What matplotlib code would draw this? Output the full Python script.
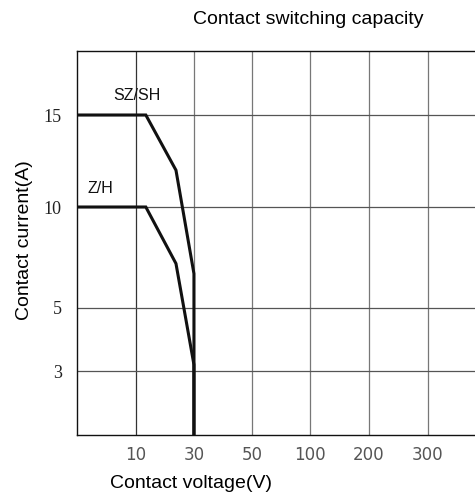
import matplotlib
matplotlib.use("Agg")
import matplotlib.pyplot as plt
import numpy as np

# data (voltage in V, current in A)
SZSH_V = [0, 13.4, 23.8, 30, 30]
SZSH_A = [15, 15, 12.0, 6.7, 0]
ZH_V = [0, 13.4, 23.8, 30, 30]
ZH_A = [10, 10, 7.2, 3.2, 0]

X_TICKS = [10, 30, 50, 100, 200, 300]
Y_TICKS = [3, 5, 10, 15]

# piecewise scales as printed on the datasheet
X_BREAK = [0, 10, 30, 50, 100, 200, 300, 400]
X_POS = [0, 59, 117, 175, 233, 292, 351, 410]
Y_BREAK = [0, 3, 5, 10, 15, 20]
Y_POS = [0, 64, 127, 228, 320, 384]


def fx(v):
    return np.interp(v, X_BREAK, X_POS)


def ifx(p):
    return np.interp(p, X_POS, X_BREAK)


def fy(v):
    return np.interp(v, Y_BREAK, Y_POS)


def ify(p):
    return np.interp(p, Y_POS, Y_BREAK)


fig = plt.figure(figsize=(4.75, 5.01), dpi=100)
ax = fig.add_axes([77 / 475, 66 / 501, 1 - 77 / 475, 384 / 501])

ax.set_xscale("function", functions=(fx, ifx))
ax.set_yscale("function", functions=(fy, ify))
ax.set_xlim(0, 380)
ax.set_ylim(0, 20)

for v in X_TICKS:
    ax.axvline(v, color="#777777" if v > 10 else "#333333", lw=0.9, zorder=1)
for a in Y_TICKS:
    ax.axhline(a, color="#555555", lw=0.9, zorder=1)

ax.plot(SZSH_V, SZSH_A, color="#111111", lw=2.2, zorder=3, solid_joinstyle="miter")
ax.plot(ZH_V, ZH_A, color="#111111", lw=2.2, zorder=3, solid_joinstyle="miter")

ax.text(10.3, 16.5, "SZ/SH", ha="center", va="center", fontsize=11.5,
        family="Liberation Sans", color="#111111")
ax.text(1.7, 11.0, "Z/H", ha="left", va="center", fontsize=11.5,
        family="Liberation Sans", color="#111111")

ax.set_xticks(X_TICKS)
ax.set_xticklabels([str(t) for t in X_TICKS], family="DejaVu Sans",
                   fontsize=12, color="#555555")
ax.set_yticks(Y_TICKS)
ax.set_yticklabels([str(t) for t in Y_TICKS], family="Liberation Serif",
                   fontsize=13, color="#222222")
ax.tick_params(axis="x", length=0, pad=8)
ax.tick_params(axis="y", length=0, pad=11)

for s in ("left", "bottom", "top"):
    ax.spines[s].set_color("#111111")
    ax.spines[s].set_linewidth(1.0)
ax.spines["right"].set_visible(False)

fig.text(308 / 475, 1 - 19 / 501, "Contact switching capacity", ha="center",
         va="center", fontsize=14, family="Liberation Sans")
fig.text(191 / 475, 1 - 484 / 501, "Contact voltage(V)", ha="center",
         va="center", fontsize=14, family="Liberation Sans")
fig.text(25 / 475, 1 - 240 / 501, "Contact current(A)", ha="center",
         va="center", rotation=90, fontsize=14, family="Liberation Sans")

fig.savefig("out.png", dpi=100, facecolor="white")
